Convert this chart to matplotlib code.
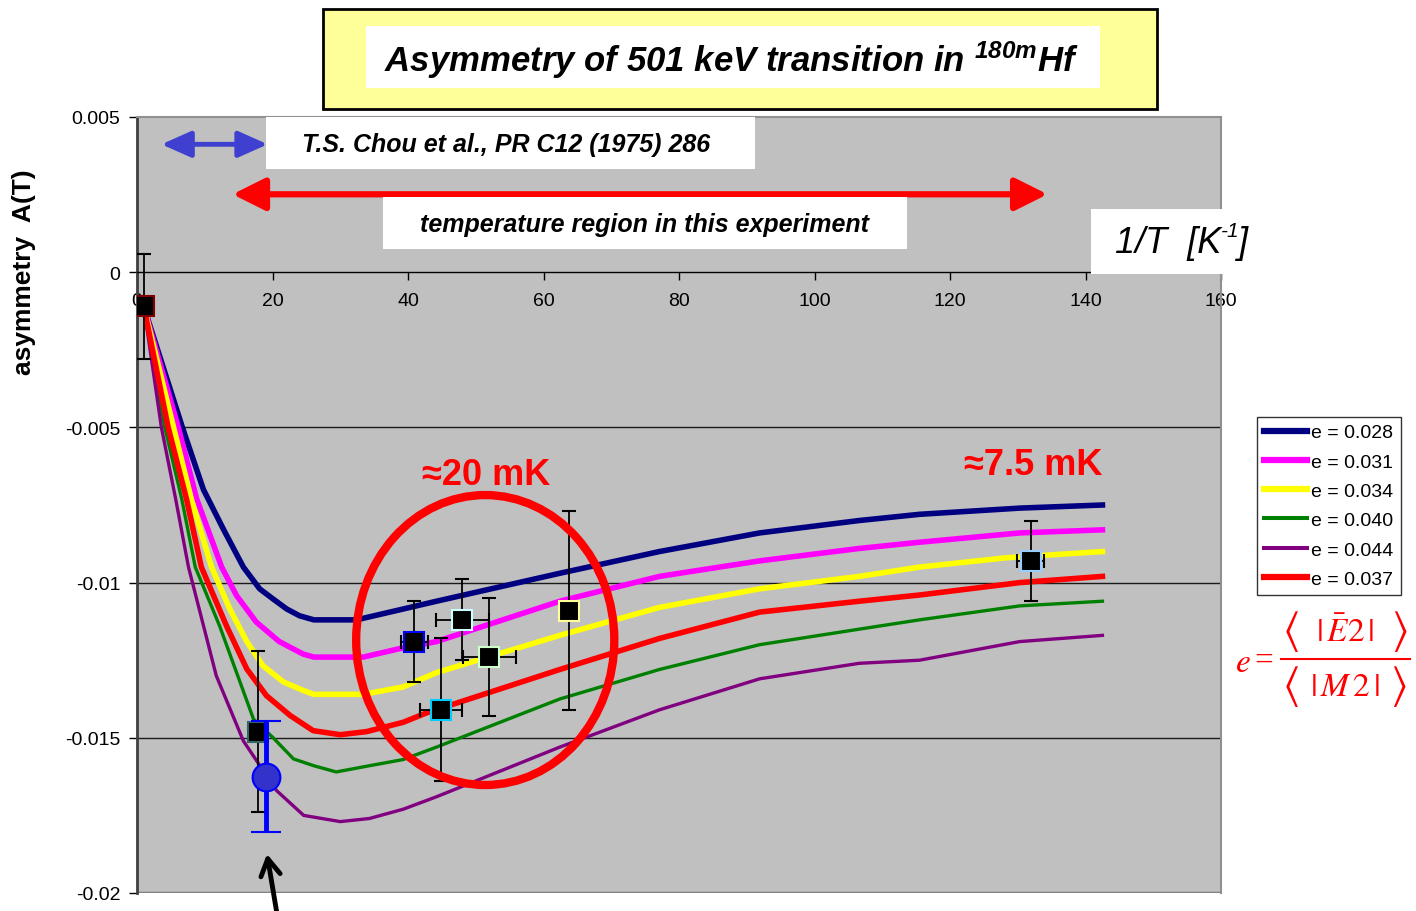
import matplotlib
matplotlib.use("Agg")
import matplotlib.pyplot as plt
from matplotlib.patches import Ellipse, Rectangle
from matplotlib.lines import Line2D

plt.rcParams['font.family'] = ['Liberation Sans', 'DejaVu Sans']
plt.rcParams['mathtext.fontset'] = 'custom'
plt.rcParams['mathtext.rm'] = 'Liberation Sans'
plt.rcParams['mathtext.it'] = 'Liberation Sans:italic'
plt.rcParams['mathtext.bf'] = 'Liberation Sans:bold:italic'

# =========================
# DATA
# =========================
# calculated A(T) curves for different mixing ratios e, x = 1/T [K^-1]
x_028 = [1, 6.7, 9.8, 12.8, 15.7, 18.1, 20.1, 22.1, 24.0, 26.1, 32.4, 39.3, 44.2, 62.4, 77.1, 91.9,
         106.6, 115.5, 130.3, 142.5]
y_028 = [-0.0011, -0.0050, -0.0070, -0.0083, -0.0095, -0.0102, -0.01053, -0.01085, -0.01107, -0.0112,
         -0.0112, -0.01085, -0.0106, -0.0097, -0.0090, -0.0084, -0.0080, -0.0078, -0.0076, -0.0075]

x_031 = [1, 6.1, 8.8, 12.5, 14.7, 17.6, 21.0, 24.5, 26.1, 33.4, 39.3, 44.2, 62.4, 77.1, 91.9, 106.6,
         115.5, 130.3, 142.5]
y_031 = [-0.0011, -0.0050, -0.0073, -0.0095, -0.01042, -0.01127, -0.0119, -0.0123, -0.0124, -0.0124,
         -0.0121, -0.0119, -0.0106, -0.0098, -0.0093, -0.0089, -0.0087, -0.0084, -0.0083]

x_034 = [1, 5.4, 8.0, 11.0, 13.7, 16.2, 18.6, 21.6, 24.6, 26.1, 33.4, 39.3, 44.2, 62.4, 77.1, 91.9,
         106.6, 115.5, 128.3, 142.5]
y_034 = [-0.0011, -0.0050, -0.0073, -0.0095, -0.01085, -0.0119, -0.01268, -0.0132, -0.01348, -0.0136,
         -0.0136, -0.01336, -0.0129, -0.0117, -0.0108, -0.0102, -0.0098, -0.0095, -0.0092, -0.0090]

x_037 = [1, 4.6, 7.3, 9.5, 13.2, 16.2, 19.1, 22.6, 26.0, 30.0, 33.9, 39.3, 42.7, 62.4, 77.1, 91.9,
         106.6, 115.5, 130.3, 142.5]
y_037 = [-0.0011, -0.0050, -0.0073, -0.0095, -0.01139, -0.01278, -0.01364, -0.01428, -0.01477, -0.0149,
         -0.0148, -0.0145, -0.0142, -0.0128, -0.0118, -0.01095, -0.0106, -0.0104, -0.0100, -0.0098]

x_040 = [1, 4.1, 6.6, 8.6, 12.2, 17.2, 20.1, 23.1, 26.1, 29.4, 34.3, 39.3, 44.2, 62.4, 77.1, 91.9,
         106.6, 115.5, 130.3, 142.5]
y_040 = [-0.0011, -0.0050, -0.0073, -0.0095, -0.0114, -0.0144, -0.0150, -0.01568, -0.0159, -0.0161,
         -0.0159, -0.0157, -0.0153, -0.01375, -0.0128, -0.0120, -0.0115, -0.0112, -0.01075, -0.0106]

x_044 = [1, 3.6, 5.7, 7.6, 11.7, 15.7, 20.6, 24.6, 30.0, 34.3, 39.3, 44.2, 62.4, 77.1, 91.9, 106.6,
         115.5, 130.3, 142.5]
y_044 = [-0.0011, -0.0050, -0.0073, -0.0095, -0.0130, -0.0151, -0.0167, -0.0175, -0.0177, -0.0176,
         -0.0173, -0.0169, -0.0153, -0.0141, -0.0131, -0.0126, -0.0125, -0.0119, -0.0117]

# measured points
pts_x = [1.1, 17.9, 40.9, 48.0, 52.0, 44.9, 63.8, 131.9]
pts_y = [-0.0011, -0.0148, -0.0119, -0.0112, -0.0124, -0.0141, -0.0109, -0.0093]
pts_yerr = [0.0017, 0.0026, 0.0013, 0.0013, 0.0019, 0.0023, 0.0032, 0.0013]
pts_xerr = [0, 0, 2.0, 3.9, 3.9, 3.1, 0, 2.0]

# T.S. Chou et al. point
chou_x = [19.1]
chou_y = [-0.01625]
chou_yerr = [0.0018]

y_ticks = [0.005, 0, -0.005, -0.01, -0.015, -0.02]
y_ticklabels = ["0.005", "0", "-0.005", "-0.01", "-0.015", "-0.02"]
x_ticks = [0, 20, 40, 60, 80, 100, 120, 140, 160]

# =========================
# FIGURE
# =========================
W, H = 1416, 912
fig = plt.figure(figsize=(W / 100, H / 100), dpi=100)
ax = fig.add_axes([137 / W, 1 - 894 / H, (1221 - 137) / W, (894 - 118) / H])
ax.set_facecolor("#C0C0C0")
ax.set_xlim(0, 160)
ax.set_ylim(-0.02, 0.005)

for yy in [-0.005, -0.01, -0.015]:
    ax.axhline(yy, color="#1a1a1a", lw=1.0, zorder=1)

curves = [
    (x_028, y_028, "#000080", 4.0, "e = 0.028"),
    (x_031, y_031, "#FF00FF", 4.0, "e = 0.031"),
    (x_034, y_034, "#FFFF00", 4.0, "e = 0.034"),
    (x_040, y_040, "#008000", 2.4, "e = 0.040"),
    (x_044, y_044, "#800080", 2.4, "e = 0.044"),
    (x_037, y_037, "#FF0000", 4.0, "e = 0.037"),
]
handles = []
for xs, ys, col, lw, lab in curves:
    ax.plot(xs, ys, color=col, lw=lw, zorder=3, solid_joinstyle="round")
    handles.append(Line2D([], [], color=col, lw=lw + 0.5, label=lab))

edge_cols = ["#800000", "#336666", "#0000FF", "#CCFFFF", "#CCFFCC", "#00CCFF", "#FFFF99", "#99CCFF"]
for i in range(len(pts_x)):
    ax.errorbar(pts_x[i], pts_y[i], yerr=pts_yerr[i], xerr=pts_xerr[i] if pts_xerr[i] else None,
                fmt="s", ms=15, mfc="black", mec=edge_cols[i], mew=1.5,
                ecolor="black", elinewidth=1.3, capsize=5, capthick=1.3, zorder=6)

ax.errorbar(chou_x, chou_y, yerr=chou_yerr, fmt="o", ms=20, mfc="#3333CC", mec="#0000FF", mew=1.5,
            ecolor="#0000FF", elinewidth=3.5, capsize=11, capthick=3.5, zorder=7)

ax.add_patch(Ellipse((51.4, -0.01185), 38.1, 0.00934, fill=False, ec="#FF0000", lw=6, zorder=8))

# arrows showing temperature ranges
ax.annotate("", xy=(3.6, 0.00412), xytext=(19.3, 0.00412),
            arrowprops=dict(arrowstyle="<|-|>,head_length=0.9,head_width=0.4", color="#3F3FD0",
                            lw=3.5, shrinkA=0, shrinkB=0, mutation_scale=20), zorder=9)
ax.annotate("", xy=(14.1, 0.00251), xytext=(134.4, 0.00251),
            arrowprops=dict(arrowstyle="<|-|>,head_length=0.9,head_width=0.45", color="#FF0000",
                            lw=4.5, shrinkA=0, shrinkB=0, mutation_scale=22), zorder=9)

# axes styling
ax.spines["bottom"].set_position(("data", 0))
ax.spines["bottom"].set_color("black")
ax.spines["bottom"].set_linewidth(1.0)
ax.spines["left"].set_color("#404040")
ax.spines["left"].set_linewidth(2.0)
for s in ["top", "right"]:
    ax.spines[s].set_color("#909090")
    ax.spines[s].set_linewidth(1.5)
ax.axhline(-0.02, color="#808080", lw=2.5, zorder=2)

ax.set_xticks(x_ticks)
ax.set_xticklabels([str(v) for v in x_ticks])
ax.set_yticks(y_ticks)
ax.set_yticklabels(y_ticklabels)
ax.tick_params(axis="x", direction="out", length=6, width=1, pad=8, labelsize=14, colors="black")
ax.tick_params(axis="y", direction="out", length=6, width=1, pad=6, labelsize=14, colors="black")

leg = ax.legend(handles=handles, loc="upper left", bbox_to_anchor=(1257 / W, 1 - 418 / H),
                bbox_transform=fig.transFigure, frameon=True, fancybox=False, fontsize=14,
                handlelength=2.2, handletextpad=0.25, labelspacing=0.6, borderpad=0.35,
                borderaxespad=0)
leg.get_frame().set_edgecolor("black")
leg.get_frame().set_linewidth(1.0)

fig.text(24 / W, 1 - 272 / H, "asymmetry  A(T)", rotation=90, ha="center", va="center",
         fontsize=19, fontweight="bold")

# =========================
# OVERLAY (pixel coordinates) for boxes and labels
# =========================
ov = fig.add_axes([0, 0, 1, 1], zorder=5)
ov.set_xlim(0, W)
ov.set_ylim(H, 0)
ov.axis("off")
ov.patch.set_alpha(0)

ov.add_patch(Rectangle((323, 10), 834, 100, fc="#FFFF99", ec="black", lw=2))
ov.add_patch(Rectangle((366, 27), 734, 62, fc="white", ec="none"))
ov.text(731, 60, r"Asymmetry of 501 keV transition in $^{\mathbf{180m}}$Hf", ha="center", va="center",
        fontsize=25, fontweight="bold", style="italic",
        family=["Liberation Sans Narrow", "Liberation Sans"])

ov.add_patch(Rectangle((266, 118), 489, 52, fc="white", ec="none"))
ov.text(506, 145, "T.S. Chou et al., PR C12 (1975) 286", ha="center", va="center",
        fontsize=18, fontweight="bold", style="italic")

ov.add_patch(Rectangle((383, 198), 524, 52, fc="white", ec="none"))
ov.text(645, 225, "temperature region in this experiment", ha="center", va="center",
        fontsize=18, fontweight="bold", style="italic")

ov.add_patch(Rectangle((1091, 210), 169, 65, fc="white", ec="none"))
ov.text(1115, 244, "1/T  [K", ha="left", va="center", fontsize=26, style="italic")
ov.text(1221, 232, "-1", ha="left", va="center", fontsize=15, style="italic")
ov.text(1238, 244, "]", ha="left", va="center", fontsize=26, style="italic")

ov.text(486, 476, "\u224820 mK", ha="center", va="center", fontsize=26, fontweight="bold", color="#FF0000")
ov.text(1033, 466, "\u22487.5 mK", ha="center", va="center", fontsize=26, fontweight="bold", color="#FF0000")

# formula e = <|E2|> / <|M2|>
red = "#FF0000"
ov.text(1243, 664, r"$e$", ha="center", va="center", fontsize=24, color=red, math_fontfamily="stix")
ov.text(1264, 662, "=", ha="center", va="center", fontsize=24, color=red, family="Liberation Serif")
ov.plot([1281, 1410], [660, 660], color=red, lw=1.5)
ov.text(1290, 632, r"$\langle$", ha="center", va="center", fontsize=32, color=red, math_fontfamily="stix")
ov.text(1399, 632, r"$\rangle$", ha="center", va="center", fontsize=32, color=red, math_fontfamily="stix")
ov.text(1345, 633, r"$|\,\bar{E}2\,|$", ha="center", va="center", fontsize=24, color=red,
        math_fontfamily="stix")
ov.text(1290, 687, r"$\langle$", ha="center", va="center", fontsize=32, color=red, math_fontfamily="stix")
ov.text(1398, 687, r"$\rangle$", ha="center", va="center", fontsize=32, color=red, math_fontfamily="stix")
ov.text(1345, 688, r"$|\,M\,2\,|$", ha="center", va="center", fontsize=24, color=red,
        math_fontfamily="stix")

ov.annotate("", xy=(267, 855), xytext=(277, 915),
            arrowprops=dict(arrowstyle="->,head_length=0.6,head_width=0.35", color="black", lw=3.5,
                            shrinkA=0, shrinkB=0, mutation_scale=20))

fig.savefig("out.png", dpi=100)
